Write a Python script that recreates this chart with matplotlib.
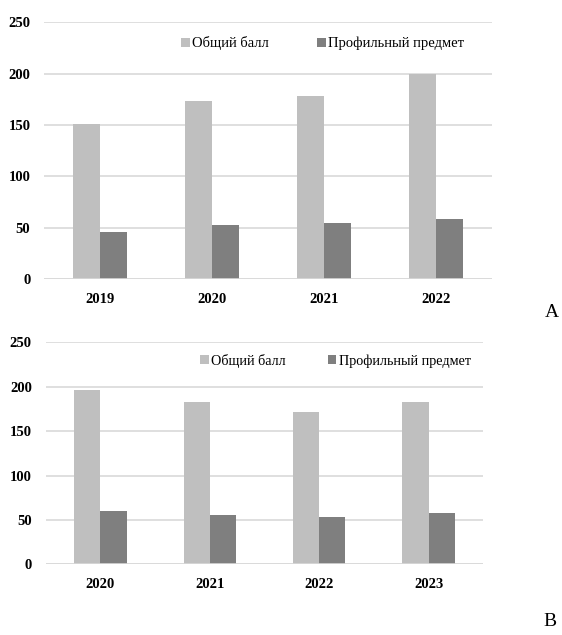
import matplotlib
matplotlib.use('Agg')
import matplotlib.pyplot as plt
import numpy as np

# panel A
years_a = ['2019', '2020', '2021', '2022']
total_a = [151, 173, 178, 200]
profile_a = [46, 53, 55, 59]

# panel B
years_b = ['2020', '2021', '2022', '2023']
total_b = [196, 183, 172, 183]
profile_b = [60, 55, 53, 58]

labels = ['Общий балл', 'Профильный предмет']
LIGHT = '#bfbfbf'
DARK = '#7f7f7f'
GRID = '#d9d9d9'

plt.rcParams['font.family'] = ['Liberation Serif', 'DejaVu Serif']


def draw_panel(ax, years, total, profile, leg_xy, colgap, leg_fs):
    x = np.arange(len(years))
    w = 0.24
    ax.bar(x - w / 2, total, w, color=LIGHT, label=labels[0], zorder=3)
    ax.bar(x + w / 2, profile, w, color=DARK, label=labels[1], zorder=3)
    ax.set_xlim(-0.5, len(years) - 0.5)
    ax.set_ylim(0, 250)
    ax.set_yticks(range(0, 251, 50))
    ax.set_xticks(x)
    ax.set_xticklabels(years)
    for t in ax.get_xticklabels() + ax.get_yticklabels():
        t.set_fontweight('bold')
        t.set_fontsize(10.5)
    ax.tick_params(length=0)
    ax.tick_params(axis='x', pad=10)
    ax.tick_params(axis='y', pad=10)
    ax.grid(axis='y', color=GRID, linewidth=1.2, zorder=0)
    for s in ax.spines.values():
        s.set_visible(False)
    ax.axhline(0, color=GRID, linewidth=1.2, zorder=4)
    ax.legend(loc='center', bbox_to_anchor=leg_xy, ncol=2, frameon=False,
              fontsize=leg_fs, handlelength=0.6, handleheight=0.6,
              handletextpad=0.15, columnspacing=colgap, borderpad=0)


fig = plt.figure(figsize=(5.62, 6.35), dpi=100)
ax_a = fig.add_axes([0.0788, 0.5602, 0.796, 0.4047])
ax_b = fig.add_axes([0.0813, 0.1113, 0.7786, 0.3496])

draw_panel(ax_a, years_a, total_a, profile_a, (0.622, 0.918), 3.3, 10.5)
draw_panel(ax_b, years_b, total_b, profile_b, (0.662, 0.916), 3.0, 10.2)

fig.text(0.995, 1 - 313 / 635, 'A', fontsize=14, ha='right', va='center')
fig.text(0.99, 1 - 622 / 635, 'B', fontsize=14, ha='right', va='center')

fig.savefig('out.png', dpi=100)
